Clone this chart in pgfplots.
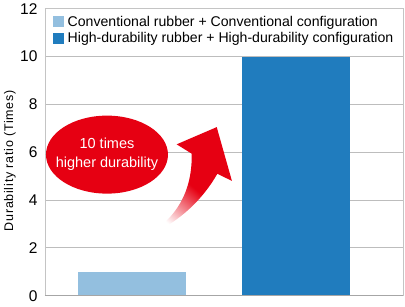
\documentclass[border=0pt]{standalone}
\usepackage{fontspec}
\setmainfont{Liberation Sans}
\newfontfamily\spaced[LetterSpace=6]{Liberation Sans}
\usepackage{pgfplots}
\pgfplotsset{compat=1.18}

\definecolor{lightbar}{HTML}{93BFDF}
\definecolor{darkbar}{HTML}{207CBE}
\definecolor{arrowred}{HTML}{E60012}
\definecolor{gridgray}{HTML}{BDBDBD}
\definecolor{framegray}{HTML}{C4C4C4}
\definecolor{basegray}{HTML}{A6A6A6}

% white tail fading into the red body of the arrow
\pgfdeclarehorizontalshading{tailfade}{100bp}{%
  color(0bp)=(white); color(28bp)=(white); color(50bp)=(arrowred); color(100bp)=(arrowred)}

\pgfplotsset{squareswatch/.style={
  legend image code/.code={\fill[##1] (0bp,-5.5bp) rectangle (11bp,5.5bp);}}}

\begin{document}
\begin{tikzpicture}
\begin{axis}[
  scale only axis,
  width=358bp, height=287bp,
  xmin=-0.532, xmax=1.657,
  ymin=0, ymax=12,
  xtick=\empty,
  ytick={0,2,...,12},
  ymajorgrids,
  grid style={draw=gridgray, line width=0.9bp},
  axis line style={draw=framegray, line width=0.9bp},
  major tick length=0pt,
  /pgf/number format/assume math mode=true,
  yticklabel style={font=\fontsize{15.5bp}{17bp}\selectfont},
  yticklabel shift=4bp,
  ylabel={Durability ratio (Times)},
  ylabel style={at={(axis description cs:-0.098,0.47)}, anchor=center,
    font=\spaced\fontsize{12.5bp}{14bp}\selectfont},
  ybar, bar width=108bp, bar shift=0pt,
  legend cell align=left,
  legend style={at={(0,1)}, anchor=north west, draw=none, fill=none,
    font=\fontsize{14.1bp}{16bp}\selectfont,
    inner xsep=8bp, inner ysep=5bp, row sep=1bp,
    nodes={inner xsep=3.5bp}},
]
\addplot[fill=lightbar, draw=none, squareswatch] coordinates {(0,1)};
\addlegendentry{Conventional rubber + Conventional configuration}
\addplot[fill=darkbar, draw=none, squareswatch] coordinates {(1,10)};
\addlegendentry{High-durability rubber + High-durability configuration}

% heavier base line
\draw[basegray, line width=2bp] (rel axis cs:0,0) -- (rel axis cs:1,0);

% callout bubble
\fill[arrowred] (axis cs:-0.153,5.90) ellipse [x radius=61bp, y radius=39bp];
\node[text=white, align=center, font=\fontsize{14.5bp}{19bp}\selectfont]
  at (axis cs:-0.153,5.90) {10 times\\higher durability};

% curved arrow
\shade[shading=tailfade, shading angle=50]
  (axis cs:0.069,2.43) .. controls (axis cs:0.25,3.1) and (axis cs:0.37,4.2) ..
  (axis cs:0.365,5.94) -- (axis cs:0.273,6.33) -- (axis cs:0.518,7.05) --
  (axis cs:0.611,4.80) -- (axis cs:0.522,5.10) ..
  controls (axis cs:0.43,4.0) and (axis cs:0.28,3.0) .. (axis cs:0.069,2.43) -- cycle;
\end{axis}
\path ([shift={(-45bp,-11bp)}]current axis.south west)
  rectangle ([shift={(2bp,5bp)}]current axis.north east);
\end{tikzpicture}
\end{document}
